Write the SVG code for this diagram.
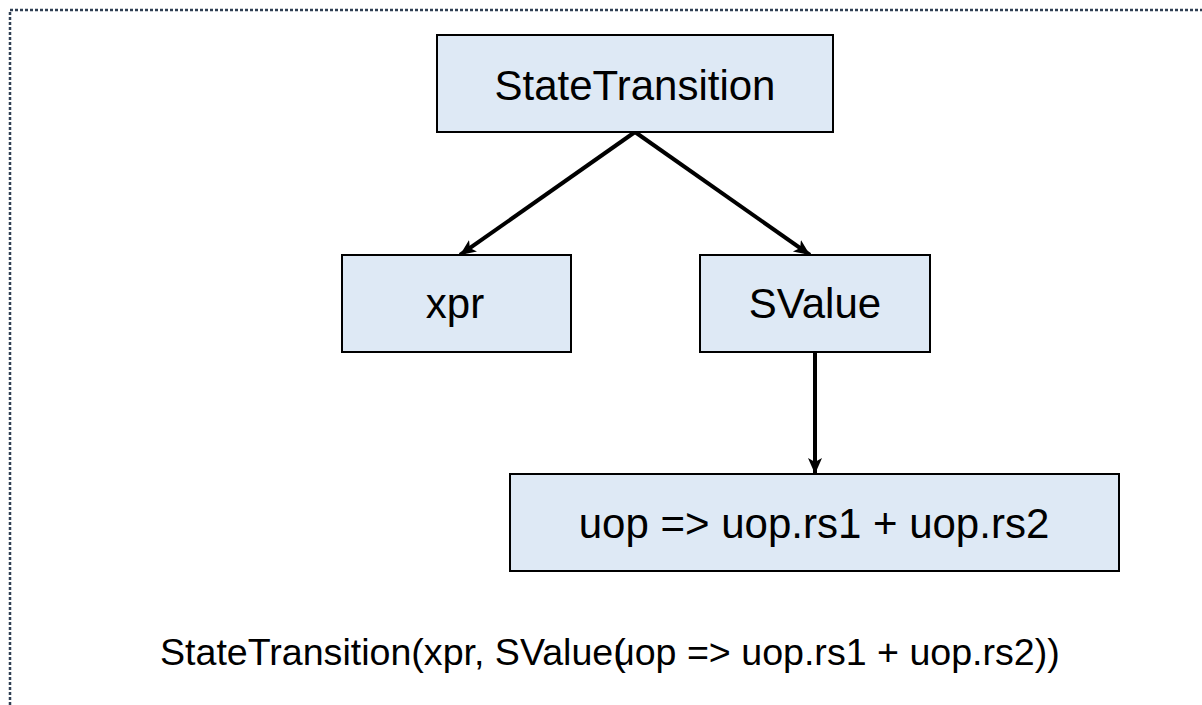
<svg xmlns="http://www.w3.org/2000/svg" width="1202" height="705" viewBox="0 0 1202 705">
<style>
.box{fill:#dee9f5;stroke:#000;stroke-width:2}
.lbl{font-family:"Liberation Sans",Arial,sans-serif;font-size:42px;fill:#000;text-anchor:middle}
.edge{stroke:#000;stroke-width:4;fill:none;marker-end:url(#ah)}
</style>
<defs>
<marker id="ah" markerUnits="userSpaceOnUse" markerWidth="20" markerHeight="16" refX="16" refY="7" orient="auto">
<path d="M0,0 L16,7 L0,14 L4,7 Z" fill="#000"/>
</marker>
</defs>
<rect x="10" y="10" width="1300" height="800" fill="none" stroke="#2f3f52" stroke-width="2.5" stroke-dasharray="3 2"/>
<g id="connectors">
<line class="edge" x1="635" y1="132" x2="460" y2="255"/>
<line class="edge" x1="635" y1="132" x2="810" y2="255"/>
<line class="edge" x1="815" y1="352" x2="815" y2="474"/>
</g>
<g id="node-statetransition">
<rect class="box" x="437" y="35" width="396" height="97"/>
<text class="lbl" x="635" y="100">StateTransition</text>
</g>
<g id="node-xpr">
<rect class="box" x="342" y="255" width="229" height="97"/>
<text class="lbl" x="455" y="318">xpr</text>
</g>
<g id="node-svalue">
<rect class="box" x="700" y="255" width="230" height="97"/>
<text class="lbl" x="815" y="318">SValue</text>
</g>
<g id="node-lambda">
<rect class="box" x="510" y="474" width="609" height="97"/>
<text class="lbl" x="814" y="538">uop =&gt; uop.rs1 + uop.rs2</text>
</g>
<text x="160" y="665" font-family="'Liberation Sans',Arial,sans-serif" font-size="37.6" fill="#000">StateTransition(xpr, SValue(<tspan dx="-12">uop =&gt; uop.rs1 + uop.rs2))</tspan></text>
</svg>
